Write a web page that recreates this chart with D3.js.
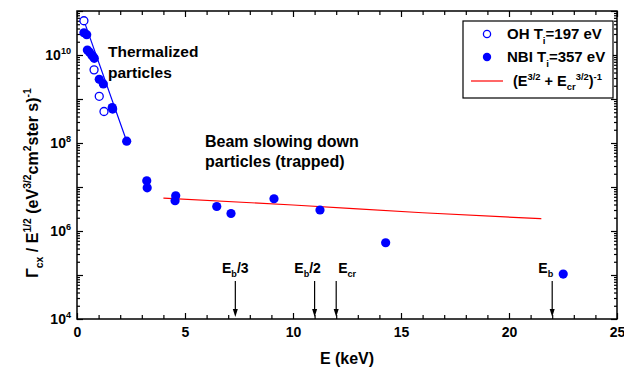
<!DOCTYPE html>
<html>
<head>
<meta charset="utf-8">
<script src="https://cdn.jsdelivr.net/npm/d3@7"></script>
<style>
  body { margin: 0; background: #fff; }
  text { font-family: "Liberation Sans", Arial, sans-serif; font-weight: bold; fill: #000; }
</style>
</head>
<body>
<svg id="chart" width="624" height="376"></svg>
<script>
// ---- data ----
const ohE = [0.32, 0.79, 1.03, 1.25];
const ohFlux = [6.0e10, 4.6e9, 1.15e9, 5.2e8];

const nbiE = [0.32, 0.45, 0.48, 0.57, 0.68, 0.75, 0.80, 1.03, 1.22, 1.63, 1.65, 2.30,
  3.23, 3.25, 4.57, 4.54, 6.47, 7.13, 9.12, 11.25, 14.29, 22.51];
const nbiFlux = [3.2e10, 2.9e10, 1.3e10, 1.17e10, 1.0e10, 9.1e9, 8.4e9, 2.8e9, 2.2e9, 6.4e8, 5.9e8, 1.1e8,
  1.38e7, 9.6e6, 6.3e6, 4.9e6, 3.6e6, 2.5e6, 5.4e6, 3.0e6, 5.4e5, 1.05e5];

// thermal fit line (end points)
const fitE = [0.28, 2.3];
const fitFlux = [6.9e10, 1.1e8];

// (E^3/2 + Ecr^3/2)^-1 curve, read at a few energies
const modelE = [4, 10, 16, 21.5];
const modelFlux = [5.6e6, 3.9e6, 2.6e6, 1.9e6];

// energy markers
const markerE = [7.33, 11, 12, 22];
const markerSub = ["b", "b", "cr", "b"];
const markerSuffix = ["/3", "/2", "", ""];

const xTicks = [0, 5, 10, 15, 20, 25];
const yLabelExp = [4, 6, 8, 10];

// ---- layout ----
const W = 624, H = 376;
const margin = { top: 11, right: 7, bottom: 57, left: 77 };
const svg = d3.select("#chart");

const x = d3.scaleLinear().domain([0, 25]).range([margin.left, W - margin.right]);
const y = d3.scaleLog().domain([1e4, 1e11]).range([H - margin.bottom, margin.top]);

const blue = "#0000ff", red = "#ff0000";

// rich text helper: parts = [[text, ""|"sup"|"sub"], ...]
function rich(sel, parts, size) {
  let shift = 0;
  parts.forEach(([t, k]) => {
    const target = k === "sup" ? -0.42 * size : k === "sub" ? 0.3 * size : 0;
    sel.append("tspan")
      .attr("dy", target - shift)
      .attr("font-size", k ? size * 0.65 : size)
      .text(t);
    shift = target;
  });
}

// ---- axes (ticks inside, mirrored) ----
const majorY = d3.range(4, 12).map(e => Math.pow(10, e));
const minorY = [];
d3.range(4, 11).forEach(e => { for (let m = 2; m <= 9; m++) minorY.push(m * Math.pow(10, e)); });
const minorX = d3.range(0, 26).filter(v => v % 5 !== 0);

function styleAxis(g) {
  g.select(".domain").remove();
  g.selectAll("line").attr("stroke", "#000").attr("stroke-width", 1.2);
}

const yB = y.range()[0], yT = y.range()[1], xL = x.range()[0], xR = x.range()[1];

svg.append("g").attr("transform", `translate(0,${yB})`)
  .call(d3.axisBottom(x).tickValues(xTicks).tickSize(-6).tickPadding(8).tickFormat(d3.format("d")))
  .call(styleAxis)
  .call(g => g.selectAll("text").attr("font-size", 14).attr("font-family", null));
svg.append("g").attr("transform", `translate(0,${yB})`)
  .call(d3.axisBottom(x).tickValues(minorX).tickSize(-4).tickFormat("")).call(styleAxis);
svg.append("g").attr("transform", `translate(0,${yT})`)
  .call(d3.axisTop(x).tickValues(xTicks).tickSize(-6).tickFormat("")).call(styleAxis);
svg.append("g").attr("transform", `translate(0,${yT})`)
  .call(d3.axisTop(x).tickValues(minorX).tickSize(-4).tickFormat("")).call(styleAxis);

svg.append("g").attr("transform", `translate(${xL},0)`)
  .call(d3.axisLeft(y).tickValues(majorY).tickSize(-6).tickFormat("")).call(styleAxis);
svg.append("g").attr("transform", `translate(${xL},0)`)
  .call(d3.axisLeft(y).tickValues(minorY).tickSize(-3).tickFormat("")).call(styleAxis);
svg.append("g").attr("transform", `translate(${xR},0)`)
  .call(d3.axisRight(y).tickValues(majorY).tickSize(-6).tickFormat("")).call(styleAxis);
svg.append("g").attr("transform", `translate(${xR},0)`)
  .call(d3.axisRight(y).tickValues(minorY).tickSize(-3).tickFormat("")).call(styleAxis);

// frame
svg.append("rect")
  .attr("x", xL).attr("y", yT).attr("width", xR - xL).attr("height", yB - yT)
  .attr("fill", "none").attr("stroke", "#000").attr("stroke-width", 1.5);

// y tick labels 10^n
yLabelExp.forEach(e => {
  const t = svg.append("text")
    .attr("x", xL - 6).attr("y", y(Math.pow(10, e)) + 5)
    .attr("text-anchor", "end");
  rich(t, [["10", ""], [String(e), "sup"]], 14);
});

// axis titles
svg.append("text")
  .attr("x", (xL + xR) / 2).attr("y", 364)
  .attr("text-anchor", "middle").attr("font-size", 16)
  .text("E (keV)");

const yTitle = svg.append("text")
  .attr("transform", `translate(38,${(yT + yB) / 2 + 18}) rotate(-90)`)
  .attr("text-anchor", "middle");
rich(yTitle, [["Γ", ""], ["cx", "sub"], [" / E", ""], ["1/2", "sup"], [" (eV", ""], ["3/2", "sup"],
  ["cm", ""], ["2", "sup"], ["ster s)", ""], ["-1", "sup"]], 16);

// ---- lines ----
const line = d3.line().x(d => x(d[0])).y(d => y(d[1]));

svg.append("path")
  .datum(d3.zip(fitE, fitFlux))
  .attr("d", line)
  .attr("fill", "none").attr("stroke", blue).attr("stroke-width", 1.2);

svg.append("path")
  .datum(d3.zip(modelE, modelFlux))
  .attr("d", line.curve(d3.curveMonotoneX))
  .attr("fill", "none").attr("stroke", red).attr("stroke-width", 1.2);

// ---- points ----
svg.append("g").selectAll("circle")
  .data(d3.zip(ohE, ohFlux))
  .join("circle")
  .attr("cx", d => x(d[0])).attr("cy", d => y(d[1])).attr("r", 4)
  .attr("fill", "#fff").attr("stroke", blue).attr("stroke-width", 1.3);

svg.append("g").selectAll("circle")
  .data(d3.zip(nbiE, nbiFlux))
  .join("circle")
  .attr("cx", d => x(d[0])).attr("cy", d => y(d[1])).attr("r", 4.6)
  .attr("fill", blue);

// ---- energy markers ----
const arrowTop = 281, arrowTip = yB - 2;
const labelDx = [0, -7, 2, 1];
const labelAnchor = ["middle", "middle", "start", "end"];

markerE.forEach((e, i) => {
  const px = x(e);
  svg.append("line")
    .attr("x1", px).attr("x2", px).attr("y1", arrowTop).attr("y2", arrowTip - 6)
    .attr("stroke", "#000").attr("stroke-width", 1.2);
  svg.append("path")
    .attr("d", `M${px - 2.5},${arrowTip - 8}L${px + 2.5},${arrowTip - 8}L${px},${arrowTip}Z`)
    .attr("fill", "#000");
  const t = svg.append("text")
    .attr("x", px + labelDx[i]).attr("y", 273)
    .attr("text-anchor", labelAnchor[i]);
  const parts = [["E", ""], [markerSub[i], "sub"]];
  if (markerSuffix[i]) parts.push([markerSuffix[i], ""]);
  rich(t, parts, 14);
});

// ---- annotations ----
svg.append("text").attr("x", 108).attr("y", 57).attr("font-size", 15.5).text("Thermalized");
svg.append("text").attr("x", 108).attr("y", 78).attr("font-size", 15.5).text("particles");
svg.append("text").attr("x", 205).attr("y", 147).attr("font-size", 16).text("Beam slowing down");
svg.append("text").attr("x", 205).attr("y", 167).attr("font-size", 16).text("particles (trapped)");

// ---- legend ----
const lg = svg.append("g");
lg.append("rect").attr("x", 463).attr("y", 21).attr("width", 150).attr("height", 77)
  .attr("fill", "#fff").attr("stroke", "#000").attr("stroke-width", 1.2);
lg.append("circle").attr("cx", 487).attr("cy", 34).attr("r", 3.6)
  .attr("fill", "#fff").attr("stroke", blue).attr("stroke-width", 1.3);
lg.append("circle").attr("cx", 487).attr("cy", 57).attr("r", 4.2).attr("fill", blue);
lg.append("line").attr("x1", 471).attr("x2", 503).attr("y1", 81).attr("y2", 81)
  .attr("stroke", red).attr("stroke-width", 1.2);

const l1 = lg.append("text").attr("x", 507).attr("y", 39);
rich(l1, [["OH T", ""], ["i", "sub"], ["=197 eV", ""]], 15);
const l2 = lg.append("text").attr("x", 507).attr("y", 62);
rich(l2, [["NBI T", ""], ["i", "sub"], ["=357 eV", ""]], 15);
const l3 = lg.append("text").attr("x", 513).attr("y", 86);
rich(l3, [["(E", ""], ["3/2", "sup"], [" + E", ""], ["cr", "sub"], ["3/2", "sup"], [")", ""], ["-1", "sup"]], 14.5);
</script>
</body>
</html>
